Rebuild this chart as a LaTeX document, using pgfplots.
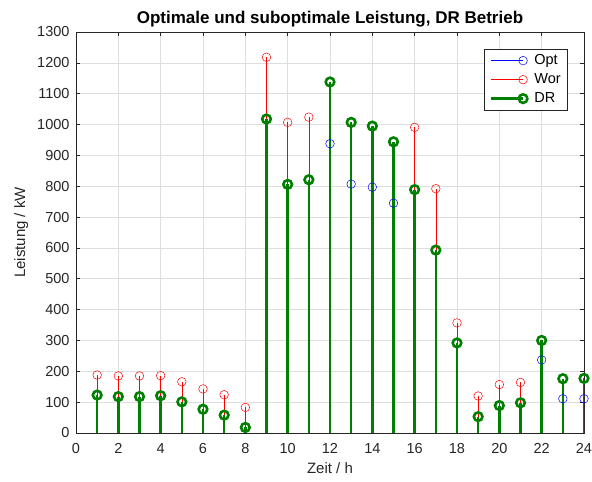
\documentclass[border=0pt]{standalone}
\usepackage{fontspec}
\setmainfont{Liberation Sans}
\usepackage{pgfplots}
\usepackage{pgfplotstable}
\pgfplotsset{compat=1.18}

\definecolor{optblue}{rgb}{0,0,1}
\definecolor{worred}{rgb}{1,0,0}
\definecolor{drgreen}{rgb}{0,0.5,0}
\definecolor{axgray}{rgb}{0.15,0.15,0.15}
\definecolor{gridgray}{rgb}{0.87,0.87,0.87}

% Hourly power in kW: optimal, worst case and DR operation
\pgfplotstableread{
h  opt   wor   dr
1  123   188   123
2  118   185   118
3  118   185   118
4  121   186   121
5  101   166   101
6  77    143   77
7  58    124   58
8  18    83    18
9  1018  1218  1018
10 806   1007  806
11 821   1024  821
12 938   1138  1138
13 807   1007  1007
14 797   995   995
15 745   944   944
16 789   991   789
17 593   792   593
18 292   357   292
19 53    120   53
20 89    157   89
21 98    164   98
22 237   300   300
23 111   176   176
24 111   177   177
}\power

\begin{document}
\begin{tikzpicture}
\useasboundingbox (-76pt,-49pt) rectangle (516pt,433pt);
\begin{axis}[
  scale only axis,
  width=508pt, height=401pt,
  xmin=0, xmax=24, ymin=0, ymax=1300,
  xtick={0,2,...,24}, ytick={0,100,...,1300},
  tick align=inside, tick pos=both,
  major tick length=4pt,
  grid=major,
  major grid style={gridgray, line width=0.6pt},
  axis line style={axgray, line width=0.6pt},
  tick style={axgray, line width=0.6pt},
  ticklabel style={font=\fontsize{14.5}{16}\selectfont, text=axgray},
  yticklabel style={xshift=-3pt},
  xticklabel style={yshift=-7pt},
  /pgf/number format/assume math mode=true,
  /pgf/number format/1000 sep={},
  xlabel={Zeit / h}, ylabel={Leistung / kW},
  label style={font=\fontsize{15}{17}\selectfont, text=axgray},
  xlabel style={yshift=-2pt},
  ylabel style={yshift=2pt},
  title={\textbf{Optimale und suboptimale Leistung, DR Betrieb}},
  title style={font=\fontsize{17}{19}\selectfont, yshift=-5pt},
  legend style={at={(0.9685,0.9576)}, anchor=north east,
    draw=axgray, line width=0.6pt, fill=white,
    font=\fontsize{14.5}{16}\selectfont, row sep=3.5pt, column sep=5pt,
    inner xsep=5pt, inner ysep=3.5pt},
  legend cell align=left,
  legend image code/.code={
    \draw[#1, mark=none] (0pt,0pt) -- (32pt,0pt);
    \draw[#1, only marks] plot coordinates {(32pt,0pt)};
  },
]
\addplot[ycomb, optblue, line width=0.5pt, mark=o, mark size=4.3pt] table[x=h, y=opt] {\power};
\addplot[ycomb, worred, line width=0.5pt, mark=o, mark size=4.3pt] table[x=h, y=wor] {\power};
\addplot[ycomb, drgreen, line width=2.6pt, mark=o, mark size=4.3pt] table[x=h, y=dr] {\power};
\legend{Opt, Wor, DR}
\end{axis}
\end{tikzpicture}
\end{document}
